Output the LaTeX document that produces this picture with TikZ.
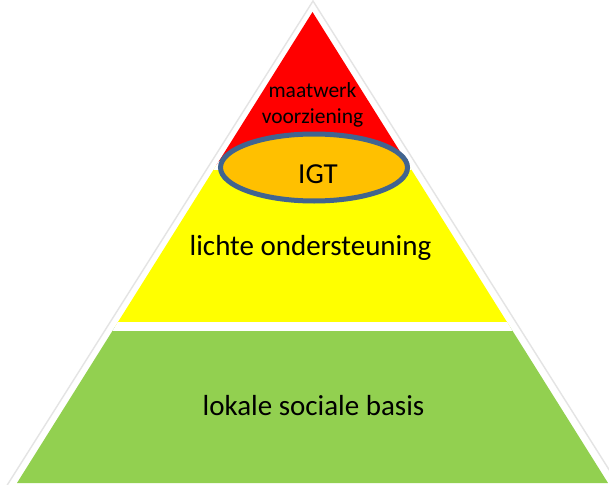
\documentclass[tikz,border=0pt]{standalone}
\usepackage{fontspec}
\setmainfont{Carlito}
\definecolor{pyrred}{HTML}{FF0000}
\definecolor{pyryellow}{HTML}{FFFF00}
\definecolor{pyrgreen}{HTML}{92D050}
\definecolor{igtfill}{HTML}{FFC000}
\definecolor{igtborder}{HTML}{41648F}
\definecolor{halo}{HTML}{E4E4E4}
\tikzset{
  halo line/.style={draw=halo, line width=1.4pt},
  label text/.style={inner sep=0pt, anchor=base, text=black},
  big text/.style={label text, font=\fontsize{29}{34}\selectfont},
  small text/.style={label text, font=\fontsize{21.5}{26}\selectfont},
  gap band/.style={fill=white},
}
\begin{document}
\begin{tikzpicture}[x=1pt,y=-1pt]
\useasboundingbox (0,0) rectangle (609,484);
\fill[white] (0,0) rectangle (609,484);
% outer light halo
\coordinate (HA) at (313,1);
\coordinate (HL) at (6,487);
\coordinate (HR) at (620,487);
\draw[halo line] (HL) -- (HA) -- (HR);
% pyramid
\coordinate (A) at (312.5,12);
\coordinate (BL) at (17,483);
\coordinate (BR) at (608,483);
\begin{scope}
  \clip (A) -- (BL) -- (BR) -- cycle;
  \fill[pyrred] (0,0) rectangle (609,165);
  \fill[pyryellow] (0,165) rectangle (609,326.5);
  \fill[pyrgreen] (0,326.5) rectangle (609,484);
  \fill[gap band] (0,160.5) rectangle (609,169.5);
  \fill[gap band] (0,322) rectangle (609,331);
\end{scope}
% ellipse
\coordinate (E) at (314,167.5);
\draw[igtborder, fill=igtfill, line width=5pt] (E) ellipse [x radius=93.5, y radius=33.5];
% texts
\node[small text] (maat) at (312.5,97) {maatwerk};
\node[small text] (voor) at (312.5,123) {voorziening};
\node[big text] (igt) at (318,183) {IGT};
\node[big text] (licht) at (310.5,255) {lichte ondersteuning};
\node[big text] (lok) at (313.5,415) {lokale sociale basis};
\end{tikzpicture}
\end{document}
